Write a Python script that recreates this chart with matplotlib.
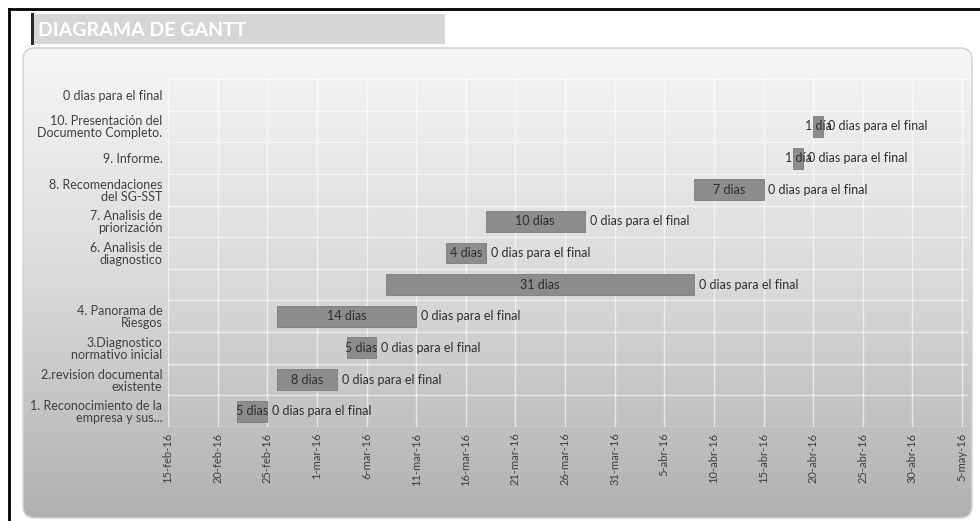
import datetime as dt

import numpy as np
import matplotlib
matplotlib.use("Agg")
import matplotlib.dates as mdates
from matplotlib import pyplot as plt
from matplotlib.patches import FancyBboxPatch, Rectangle

plt.rcParams["font.family"] = ["Lato", "DejaVu Sans"]

# tasks, bottom to top (as Excel draws them)
tasks = [
    "1. Reconocimiento de la\nempresa y sus...",
    "2.revision documental\nexistente",
    "3.Diagnostico\nnormativo inicial",
    "4. Panorama de\nRiesgos",
    "",
    "6. Analisis de\ndiagnostico",
    "7. Analisis de\npriorización",
    "8. Recomendaciones\ndel SG-SST",
    "9. Informe.",
    "10. Presentación del\nDocumento Completo.",
    "0 dias para el final",
]
starts = ["2016-02-22", "2016-02-26", "2016-03-04", "2016-02-26", "2016-03-08",
          "2016-03-14", "2016-03-18", "2016-04-08", "2016-04-18", "2016-04-20", None]
durations = [3, 6, 3, 14, 31, 4, 10, 7, 1, 1, 0]
dur_labels = ["5 dias", "8 dias", "5 dias", "14 dias", "31 dias", "4 dias",
              "10 dias", "7 dias", "1 día", "1 día", ""]
end_label = "0 dias para el final"

tick_dates = ["2016-02-15", "2016-02-20", "2016-02-25", "2016-03-01", "2016-03-06",
              "2016-03-11", "2016-03-16", "2016-03-21", "2016-03-26", "2016-03-31",
              "2016-04-05", "2016-04-10", "2016-04-15", "2016-04-20", "2016-04-25",
              "2016-04-30", "2016-05-05"]
tick_labels = ["15-feb-16", "20-feb-16", "25-feb-16", "1-mar-16", "6-mar-16",
               "11-mar-16", "16-mar-16", "21-mar-16", "26-mar-16", "31-mar-16",
               "5-abr-16", "10-abr-16", "15-abr-16", "20-abr-16", "25-abr-16",
               "30-abr-16", "5-may-16"]

W, H = 980, 521
fig = plt.figure(figsize=(W / 100, H / 100), dpi=100)
fig.patch.set_facecolor("white")

# background layer in pixel coords
bg = fig.add_axes([0, 0, 1, 1])
bg.set_xlim(0, W)
bg.set_ylim(H, 0)
bg.axis("off")

panel = FancyBboxPatch((23, 48), 949, 470, boxstyle="round,pad=0,rounding_size=12",
                       facecolor="none", edgecolor="#d6d6d6", lw=1.2, zorder=2)
bg.add_patch(panel)
grad = np.linspace(0, 1, 256).reshape(-1, 1)
img = bg.imshow(grad, cmap=matplotlib.colors.LinearSegmentedColormap.from_list(
    "g", ["#f6f6f6", "#dadada", "#b0b0b0"]), extent=(23, 972, 518, 48),
    aspect="auto", zorder=1)
img.set_clip_path(panel)

# title box
bg.add_patch(Rectangle((32, 14), 413, 30, facecolor="#d6d6d6", edgecolor="none", zorder=2))
bg.add_patch(Rectangle((31, 13), 3, 32, facecolor="#2a2a2a", edgecolor="none", zorder=3))
bg.text(38, 30, "DIAGRAMA DE GANTT", color="white", fontsize=14, fontweight="bold",
        va="center", ha="left", zorder=3)

# outer black frame (left and top)
bg.plot([9, 9], [9, H], color="black", lw=2, zorder=4)
bg.plot([9, W], [9, 9], color="black", lw=2, zorder=4)

# gantt axes
ax = fig.add_axes([168 / W, 1 - 427 / H, (968 - 168) / W, (427 - 79) / H])
ax.set_facecolor("none")
ax.set_zorder(5)

y = np.arange(len(tasks))
for i, (s, d) in enumerate(zip(starts, durations)):
    if s is None:
        continue
    left = mdates.date2num(dt.datetime.fromisoformat(s))
    ax.barh(y[i], d, left=left, height=0.66, color="#8c8c8c", edgecolor="#7c7c7c",
            lw=0.6, zorder=3)
    ax.text(left + d / 2, y[i], dur_labels[i], ha="center", va="center",
            fontsize=9, color="#2e2e2e", zorder=4)
    ax.text(left + d + 0.5, y[i], end_label, ha="left", va="center",
            fontsize=9, color="#2e2e2e", zorder=4)

tick_nums = mdates.date2num([dt.datetime.fromisoformat(t) for t in tick_dates])
ax.set_xticks(tick_nums)
ax.set_xticklabels(tick_labels, rotation=90, fontsize=8, color="#404040")
ax.set_xlim(tick_nums[0], tick_nums[-1] + 0.6)

ax.set_yticks(y)
ax.set_yticklabels(tasks, fontsize=9, color="#404040", linespacing=1.0)
ax.set_yticks(np.arange(-0.5, len(tasks)), minor=True)
ax.set_ylim(-0.5, len(tasks) - 0.5)

ax.grid(axis="x", which="major", color="white", lw=1.0, alpha=0.6, zorder=0)
ax.grid(axis="y", which="minor", color="white", lw=1.0, alpha=0.6, zorder=0)
ax.tick_params(which="both", length=0, pad=4)
for sp in ax.spines.values():
    sp.set_visible(False)
ax.set_axisbelow(True)

plt.savefig("out.png", dpi=100)
